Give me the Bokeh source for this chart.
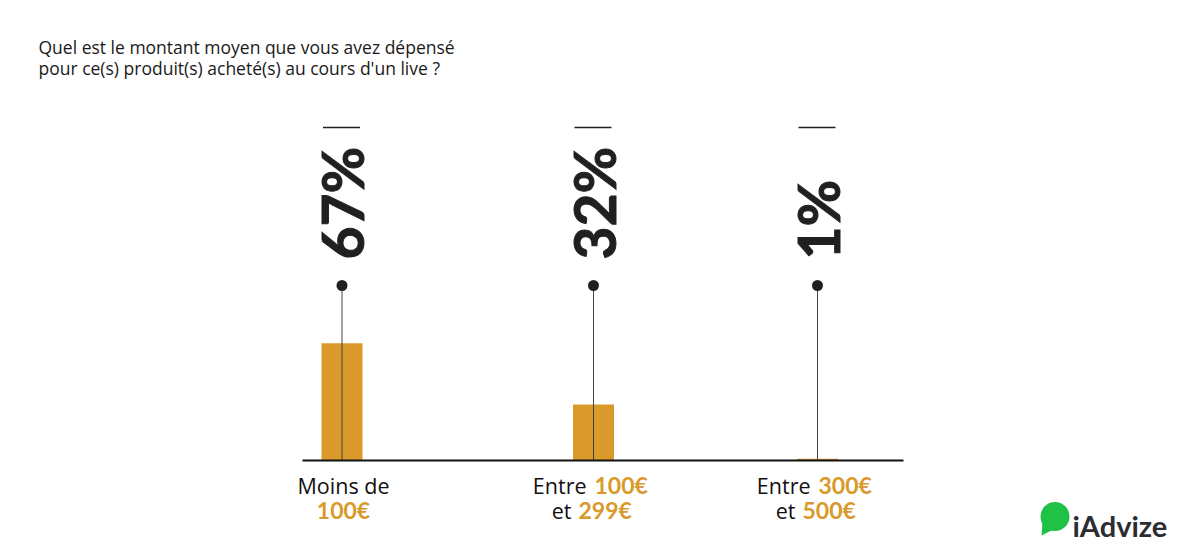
import math
from bokeh.plotting import figure
from bokeh.models import Range1d, ColumnDataSource
from bokeh.core.properties import value
from bokeh.embed import file_html
from bokeh.resources import INLINE

# ---------------- data ----------------
title_lines = ["Quel est le montant moyen que vous avez dépensé",
               "pour ce(s) produit(s) acheté(s) au cours d'un live ?"]
categories = ["Moins de 100€", "Entre 100€ et 299€", "Entre 300€ et 500€"]
values = [67, 32, 1]
pct_labels = ["67%", "32%", "1%"]
line1_plain = ["Moins de", "Entre", "Entre"]
line1_amount = ["", "100€", "300€"]
line2_plain = ["", "et", "et"]
line2_amount = ["100€", "299€", "500€"]
scale_max = 100
brand = "iAdvize"

# ---------------- layout ----------------
W, H = 1184, 544
BASE_PX = 460.0      # screen y of zero line
PX_PER = 1.75        # px per percent
x_pos = [341.5, 593, 817]
TXT_SHIFT = 8.5      # correction for alphabetic baseline placement

def yv(py):
    return (BASE_PX - py) / PX_PER

def ytv(py):
    return yv(py - TXT_SHIFT)

ORANGE = "#D99A2B"
DARK = "#1f2022"

p = figure(width=W, height=H, output_backend="svg", toolbar_location=None,
           x_range=Range1d(0, W), y_range=Range1d(yv(H), yv(0)),
           x_axis_location=None, y_axis_location=None,
           min_border=0, min_border_left=0, min_border_right=0,
           min_border_top=0, min_border_bottom=0)
p.outline_line_color = None
p.grid.visible = False
p.background_fill_color = "white"
p.border_fill_color = "white"

# title
p.text(x=[38, 38], y=[ytv(55), ytv(76)], text=title_lines,
       text_font=value("Open Sans"), text_font_size="17.5px",
       text_color="#1a1a1a", text_align="left", text_baseline="alphabetic")

# bars
src = ColumnDataSource(dict(x=x_pos, top=values, pct=pct_labels))
p.vbar(x="x", top="top", bottom=0, width=41, source=src,
       fill_color=ORANGE, line_color=None)

# baseline
p.segment(x0=[302], y0=[0], x1=[903], y1=[0], line_color="#111111", line_width=2)

# stems + dots
p.segment(x0=x_pos, y0=[0] * 3, x1=x_pos, y1=[scale_max] * 3,
          line_color="#333333", line_width=1, line_alpha=0.9)
p.scatter(x=x_pos, y=[scale_max] * 3, size=11, fill_color=DARK, line_color=None)

# rotated percentage labels
p.text(x=x_pos, y=[yv(259)] * 3, text=pct_labels, angle=math.pi / 2,
       text_font=value("Lato"), text_font_style="bold", text_font_size="57px",
       text_color=DARK, text_outline_color=DARK,
       text_align="left", text_baseline="middle")

# short rules above labels
p.segment(x0=[x - 19 for x in x_pos], y0=[yv(127)] * 3,
          x1=[x + 18 for x in x_pos], y1=[yv(127)] * 3,
          line_color=DARK, line_width=1.5)

# category labels
FONT = value("Open Sans")
for i, c in enumerate(x_pos):
    for (plain, amount, py, gap_l, gap_r) in [
        (line1_plain[i], line1_amount[i], 493, -7, 1),
        (line2_plain[i], line2_amount[i], 518, -22, -15),
    ]:
        if plain and amount:
            p.text(x=[c + gap_l], y=[ytv(py)], text=[plain], text_font=FONT,
                   text_font_size="21.5px", text_color="#111111",
                   text_align="right", text_baseline="alphabetic")
            p.text(x=[c + gap_r], y=[ytv(py)], text=[amount], text_font=value("Lato"),
                   text_font_style="bold", text_font_size="23px", text_color=ORANGE,
                   text_align="left", text_baseline="alphabetic")
        elif plain:
            p.text(x=[c + 1.5], y=[ytv(py)], text=[plain], text_font=FONT,
                   text_font_size="21.5px", text_color="#111111",
                   text_align="center", text_baseline="alphabetic")
        elif amount:
            p.text(x=[c + 1.5], y=[ytv(py)], text=[amount], text_font=value("Lato"),
                   text_font_style="bold", text_font_size="23px", text_color=ORANGE,
                   text_align="center", text_baseline="alphabetic")

# logo
GREEN = "#20C246"
p.ellipse(x=[1054.5], y=[yv(516)], width=29, height=29 / PX_PER,
          fill_color=GREEN, line_color=None)
p.patch(x=[1042, 1053, 1041], y=[yv(521), yv(529), yv(535)],
        fill_color=GREEN, line_color=None)
p.text(x=[1072], y=[ytv(533)], text=[brand], text_font=value("Lato"),
       text_font_style="bold", text_font_size="29px", text_color="#2b2d33",
       text_align="left", text_baseline="alphabetic")

open("out.html", "w").write(file_html(p, INLINE))
